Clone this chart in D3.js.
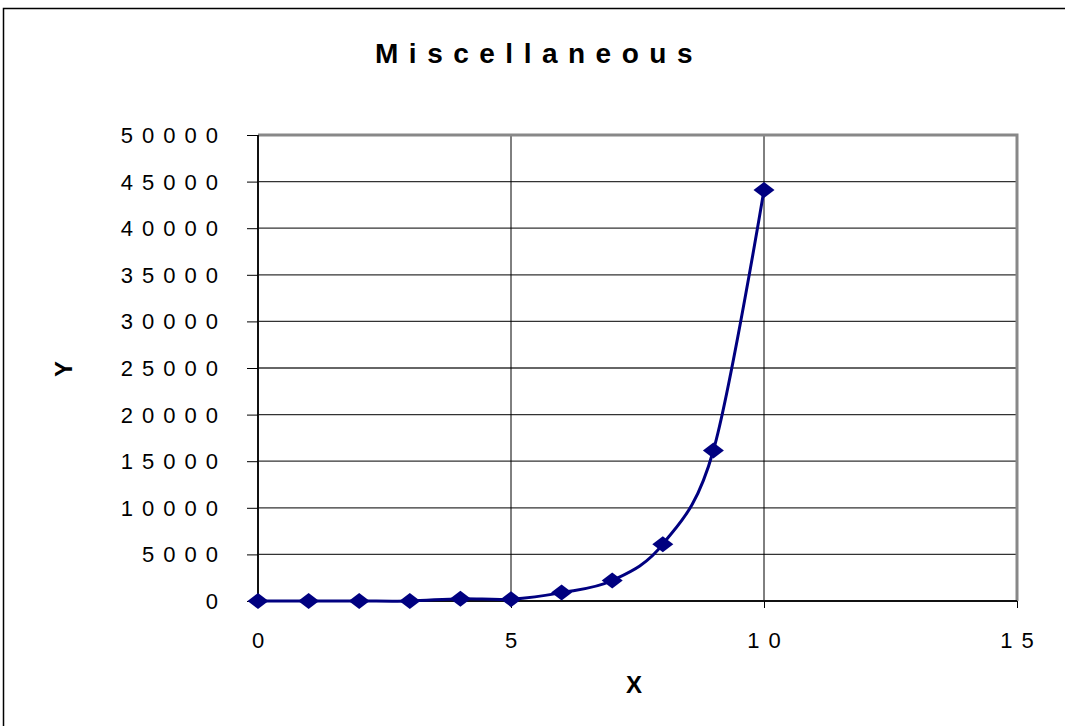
<!DOCTYPE html>
<html>
<head>
<meta charset="utf-8">
<title>Miscellaneous</title>
<script src="https://cdn.jsdelivr.net/npm/d3@7"></script>
<style>
  body { margin: 0; background: #fff; }
  svg { display: block; font-family: "Liberation Sans", Arial, sans-serif; }
</style>
</head>
<body>
<svg id="chart" width="1065" height="726"></svg>
<script>
// values
var xValues = [0, 1, 2, 3, 4, 5, 6, 7, 8, 9, 10];
var yValues = [0, 0, 0, 0, 250, 200, 900, 2200, 6100, 16150, 44100];
var xTicks = [0, 5, 10, 15];
var yTicks = [0, 5000, 10000, 15000, 20000, 25000, 30000, 35000, 40000, 45000, 50000];
var chartTitle = "Miscellaneous";
var xTitle = "X";
var yTitle = "Y";

var svg = d3.select("#chart");
// note: "top" is a read-only window global, so use other names
var plotLeft = 258, plotRight = 1017, plotTop = 135, plotBottom = 601;

var x = d3.scaleLinear().domain([0, 15]).range([plotLeft, plotRight]);
var y = d3.scaleLinear().domain([0, 50000]).range([plotBottom, plotTop]);

// outer chart border (runs past the window on right/bottom)
svg.append("rect")
  .attr("x", 3.5).attr("y", 8.5)
  .attr("width", 1100).attr("height", 800)
  .style("fill", "none").style("stroke", "#000").style("stroke-width", 1.5);

// horizontal gridlines
svg.append("g").selectAll("line")
  .data(yTicks.slice(1))
  .enter().append("line")
  .attr("x1", plotLeft).attr("x2", plotRight)
  .attr("y1", function(d) { return y(d); })
  .attr("y2", function(d) { return y(d); })
  .style("stroke", "#333").style("stroke-width", 1.3);

// vertical gridlines
svg.append("g").selectAll("line")
  .data(xTicks.slice(1, -1))
  .enter().append("line")
  .attr("y1", plotTop).attr("y2", plotBottom)
  .attr("x1", function(d) { return x(d); })
  .attr("x2", function(d) { return x(d); })
  .style("stroke", "#000").style("stroke-width", 1);

// plot area border, top and right (gray)
svg.append("path")
  .attr("d", "M" + plotLeft + "," + plotTop + " L" + plotRight + "," + plotTop + " L" + plotRight + "," + plotBottom)
  .style("fill", "none").style("stroke", "#888").style("stroke-width", 3);

// axes
var yAxis = d3.axisLeft(y).tickValues(yTicks).tickSize(11).tickFormat("");
var xAxis = d3.axisBottom(x).tickValues(xTicks).tickSize(7).tickFormat("");

var gy = svg.append("g").attr("transform", "translate(" + plotLeft + ",0)").call(yAxis);
var gx = svg.append("g").attr("transform", "translate(0," + plotBottom + ")").call(xAxis);
gy.select(".domain").attr("d", "M0," + plotTop + "V" + plotBottom).style("stroke", "#111").style("stroke-width", 2);
gx.select(".domain").attr("d", "M" + plotLeft + ",0H" + plotRight).style("stroke", "#111").style("stroke-width", 2);
svg.selectAll(".tick line").style("stroke", "#000").style("stroke-width", 1);

// tick labels, wide-spaced like the original
svg.append("g").selectAll("text")
  .data(yTicks)
  .enter().append("text")
  .attr("x", 218 + 9)
  .attr("y", function(d) { return y(d) + 8; })
  .attr("text-anchor", "end")
  .style("font-size", "22px")
  .style("letter-spacing", "9px")
  .text(function(d) { return d; });

svg.append("g").selectAll("text")
  .data(xTicks)
  .enter().append("text")
  .attr("x", function(d) { return x(d) + 4.5; })
  .attr("y", 648)
  .attr("text-anchor", "middle")
  .style("font-size", "22px")
  .style("letter-spacing", "9px")
  .text(function(d) { return d; });

// titles
svg.append("text")
  .attr("x", 534 + 5).attr("y", 63)
  .attr("text-anchor", "middle")
  .style("font-size", "28px").style("font-weight", "bold")
  .style("letter-spacing", "10.5px")
  .text(chartTitle);

svg.append("text")
  .attr("x", 634).attr("y", 693)
  .attr("text-anchor", "middle")
  .style("font-size", "24px").style("font-weight", "bold")
  .text(xTitle);

svg.append("text")
  .attr("transform", "translate(72,369) rotate(-90)")
  .attr("text-anchor", "middle")
  .style("font-size", "24px").style("font-weight", "bold")
  .text(yTitle);

// smoothed series line
var pts = xValues.map(function(v, i) { return [v, yValues[i]]; });
var line = d3.line()
  .x(function(d) { return x(d[0]); })
  .y(function(d) { return y(d[1]); })
  .curve(d3.curveCardinal.tension(0));

svg.append("path")
  .datum(pts)
  .attr("d", line)
  .style("fill", "none").style("stroke", "#000080").style("stroke-width", 3);

// diamond markers
svg.append("g").selectAll("path")
  .data(pts)
  .enter().append("path")
  .attr("d", "M-10.5,0 L0,-8 L10.5,0 L0,8 Z")
  .attr("transform", function(d) { return "translate(" + x(d[0]) + "," + y(d[1]) + ")"; })
  .style("fill", "#000080");
</script>
</body>
</html>
